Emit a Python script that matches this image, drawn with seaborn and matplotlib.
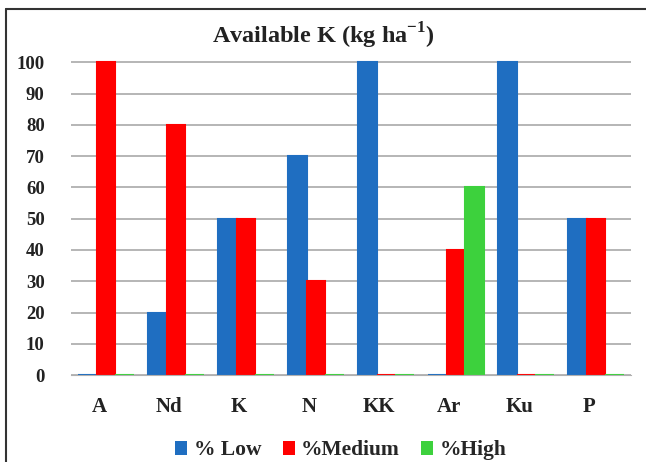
import pandas as pd
import matplotlib
matplotlib.use("Agg")
import matplotlib.pyplot as plt
import matplotlib.transforms as mtransforms
import seaborn as sns
from matplotlib.lines import Line2D

# data
sites = ["A", "Nd", "K", "N", "KK", "Ar", "Ku", "P"]
low = [0, 20, 50, 70, 100, 0, 100, 50]
medium = [100, 80, 50, 30, 0, 40, 0, 50]
high = [0, 0, 0, 0, 0, 60, 0, 0]
series = ["% Low", "%Medium", "%High"]
colors = ["#1F6EC1", "#FF0000", "#3DD13D"]

df = pd.DataFrame({"Site": sites, series[0]: low, series[1]: medium, series[2]: high})
df = df.melt(id_vars="Site", var_name="Class", value_name="Percent")

sns.set_style("white")
plt.rcParams["font.family"] = ["Liberation Serif", "DejaVu Serif"]
plt.rcParams["font.weight"] = "bold"
plt.rcParams["mathtext.fontset"] = "custom"
plt.rcParams["mathtext.rm"] = "Liberation Serif:bold"

fig = plt.figure(figsize=(6.46, 4.62), dpi=100)
ax = fig.add_axes([0.110, 0.188, 0.867, 0.684])

sns.barplot(data=df, x="Site", y="Percent", hue="Class", order=sites,
            hue_order=series, palette=colors, width=0.8, ax=ax,
            linewidth=0, saturation=1, legend=True)
# zero-height bars still show as a thin sliver like in the original
for c, col in zip(ax.containers, colors):
    for bar in c:
        bar.set_edgecolor(col)
        bar.set_linewidth(1.5)

ax.set_ylim(0, 101)
ax.set_yticks(range(0, 101, 10))
ax.yaxis.grid(True, color="#B0B0B0", linewidth=1.3)
ax.set_axisbelow(True)
for s in ["top", "right", "left"]:
    ax.spines[s].set_visible(False)
ax.spines["bottom"].set_color("#B0B0B0")
ax.set_xlabel("")
ax.set_ylabel("")
ax.tick_params(axis="y", length=0, labelsize=13.5, colors="#222222", pad=19)
ax.tick_params(axis="x", length=0, labelsize=15, colors="#222222", pad=16)
# the 3D view in the original nudges the labels a little to the left
shift = mtransforms.ScaledTranslation(-0.07, 0, fig.dpi_scale_trans)
for lab in ax.get_xticklabels():
    lab.set_fontweight("bold")
    lab.set_transform(lab.get_transform() + shift)
for lab in ax.get_yticklabels():
    lab.set_fontweight("bold")

fig.suptitle(r"Available K (kg ha$^{\mathrm{-1}}$)", y=0.955, fontsize=17.5,
             fontweight="bold", color="#222222")

ax.legend(loc="upper center", bbox_to_anchor=(0.482, -0.145), ncol=3, frameon=False,
          handlelength=0.55, handleheight=0.65, handletextpad=0.3, columnspacing=1.0,
          prop={"weight": "bold", "size": 15.5})

# frame of the original picture: only top and left edges visible
fig.add_artist(Line2D([0.009, 1.0], [0.98, 0.98], color="#333333", linewidth=1.5))
fig.add_artist(Line2D([0.009, 0.009], [0.0, 0.98], color="#333333", linewidth=1.5))

fig.savefig("out.png", dpi=100)
